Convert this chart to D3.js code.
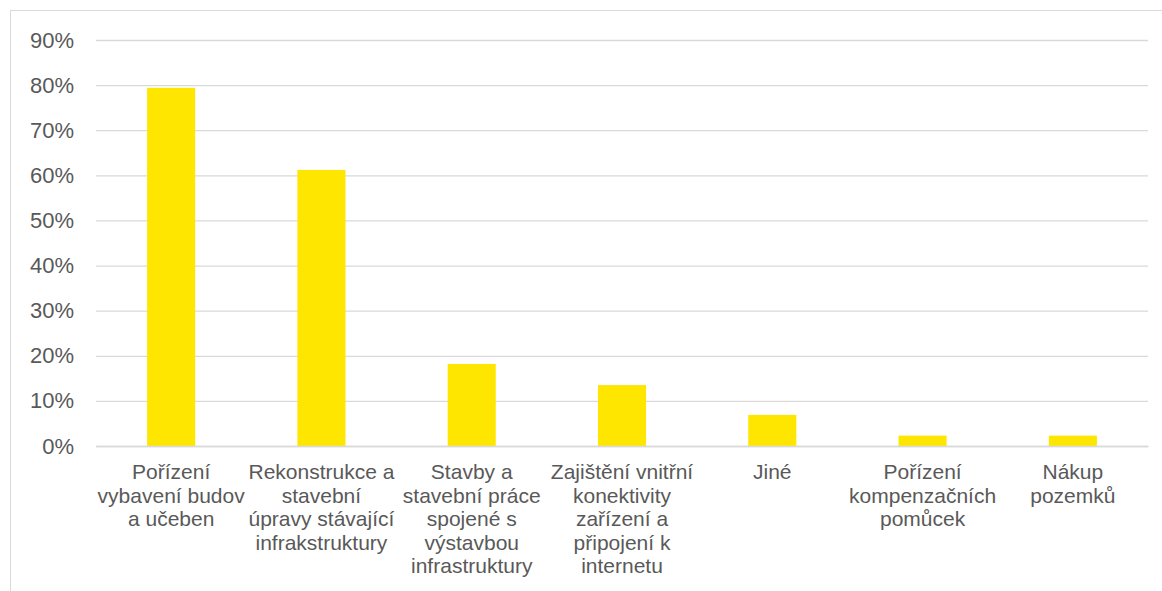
<!DOCTYPE html>
<html><head><meta charset="utf-8">
<script src="https://cdn.jsdelivr.net/npm/d3@7"></script>
<style>body{margin:0;background:#fff}svg{display:block}</style>
</head><body>
<svg id="c" width="1162" height="591"></svg>
<script>
const categories = [
  ["Pořízení","vybavení budov","a učeben"],
  ["Rekonstrukce a","stavební","úpravy stávající","infrakstruktury"],
  ["Stavby a","stavební práce","spojené s","výstavbou","infrastruktury"],
  ["Zajištění vnitřní","konektivity","zařízení a","připojení k","internetu"],
  ["Jiné"],
  ["Pořízení","kompenzačních","pomůcek"],
  ["Nákup","pozemků"]
];
const values = [79.4, 61.2, 18.2, 13.5, 6.9, 2.3, 2.3];
const yTicks = [0,10,20,30,40,50,60,70,80,90];

const svg = d3.select("#c");
const m = {left:96, right:1148, top:40, bottom:446};
const font = "'Liberation Sans', Arial, sans-serif";
svg.append("rect").attr("x",10.5).attr("y",10.5).attr("width",1162).attr("height",600)
  .attr("fill","none").attr("stroke","#d9d9d9").attr("stroke-width",1);

const idx = categories.map((d,i)=>i);
const x = d3.scaleBand().domain(idx).range([m.left,m.right]).paddingInner(0.68).paddingOuter(0.34);
const y = d3.scaleLinear().domain([0,90]).range([m.bottom,m.top]);

const yAxis = d3.axisLeft(y).tickValues(yTicks).tickFormat(d=>d+"%").tickSize(-(m.right-m.left)).tickPadding(22);
const ga = svg.append("g").attr("transform",`translate(${m.left},0)`).call(yAxis);
ga.select(".domain").remove();
ga.selectAll(".tick line").attr("stroke","#d9d9d9").attr("stroke-width",1.3);
ga.selectAll(".tick text").attr("fill","#595959").style("font-family",font).style("font-size","22px");

svg.append("g").selectAll("rect").data(values).join("rect")
  .attr("x",(d,i)=>x(i)).attr("width",x.bandwidth())
  .attr("y",d=>y(d)).attr("height",d=>y(0)-y(d)).attr("fill","#ffe600");

const xAxis = d3.axisBottom(x).tickSize(0).tickFormat("");
const gx = svg.append("g").attr("transform",`translate(0,${m.bottom})`).call(xAxis);
gx.select(".domain").attr("stroke","#d9d9d9").attr("stroke-width",1.3);
gx.selectAll(".tick").each(function(i){
  const t = d3.select(this).append("text").attr("fill","#595959")
    .attr("text-anchor","middle").style("font-family",font).style("font-size","21px");
  categories[i].forEach((line,k)=>{
    t.append("tspan").attr("x",0).attr("y",33+k*23.6).text(line);
  });
});
</script>
</body></html>
